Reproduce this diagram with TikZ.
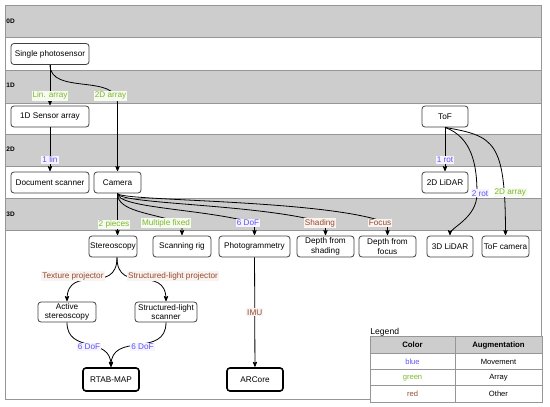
\documentclass[tikz,border=0pt]{standalone}
\usepackage{fontspec}
\setmainfont{Liberation Sans}
\usepackage{xcolor}
\usepackage{tikz}
\usetikzlibrary{positioning, arrows.meta, arrows}

\definecolor{bandgray}{RGB}{205,205,205}
\definecolor{linegray}{RGB}{150,150,150}
\definecolor{movecol}{RGB}{95,85,245}
\definecolor{arraycol}{RGB}{125,185,45}
\definecolor{othercol}{RGB}{150,75,45}

\newcommand{\figfont}{\fontsize{8.2pt}{9.4pt}\selectfont}

\begin{document}
\begin{tikzpicture}[x=1pt,y=1pt,->,>=stealth',shorten >=0.5pt,line width=0.8pt,font=\figfont,
    box/.style={draw=black!75,rounded corners=3pt,fill=white,minimum height=21pt,inner sep=1pt,align=center},
    final/.style={box,draw=black,line width=1.6pt,minimum height=23pt},
    lbl/.style={fill=#1!7,text=#1,inner sep=1pt},
    band/.style={-,fill=bandgray,draw=linegray,line width=0.6pt},
    dim/.style={font=\fontsize{6.5pt}{7pt}\selectfont\bfseries,anchor=west,inner sep=0pt},
    cell/.style={draw=linegray,fill=white,line width=0.6pt,minimum height=16.5pt,inner sep=0pt,font=\fontsize{7.6pt}{8pt}\selectfont}]
    \useasboundingbox (0,0) rectangle (550,-407);

    % bands
    \draw[-,draw=linegray,fill=white,line width=0.6pt] (5,-5) rectangle (541,-399);
    \foreach \ya/\yb in {5/37,70/103,134/166,198/230}
        \draw[band] (5,-\ya) rectangle (541,-\yb);
    \foreach \lab/\yy in {0/21,1/85,2/149,3/214}
        \node[dim] (d\lab) at (6,-\yy) {\lab D};

    % sensors
    \node[box,minimum width=78pt] (sp) at (50,-54) {Single photosensor};
    \node[box,minimum width=78pt] (sa) at (50,-116.5) {1D Sensor array};
    \node[box,minimum width=46pt] (tof) at (445,-116.5) {ToF};
    \node[box,minimum width=78pt] (ds) at (50,-182.5) {Document scanner};
    \node[box,minimum width=47pt] (cam) at (117.5,-182.5) {Camera};
    \node[box,minimum width=46pt] (lidar2) at (445,-182.5) {2D LiDAR};

    \node[box,minimum width=48pt] (stereo) at (113,-246.5) {Stereoscopy};
    \node[box,minimum width=58pt] (rig) at (182,-246.5) {Scanning rig};
    \node[box,minimum width=71pt] (photo) at (254.5,-246.5) {Photogrammetry};
    \node[box,minimum width=57pt] (dfs) at (325.5,-246.5) {Depth from\\shading};
    \node[box,minimum width=57pt] (dff) at (387.5,-246.5) {Depth from\\focus};
    \node[box,minimum width=46pt] (lidar3) at (450,-246.5) {3D LiDAR};
    \node[box,minimum width=47pt] (tofcam) at (505.5,-246.5) {ToF camera};

    \node[box,minimum width=58pt,minimum height=20pt] (actst) at (67,-312) {Active\\stereoscopy};
    \node[box,minimum width=62pt,minimum height=20pt] (sls) at (166,-312) {Structured-light\\scanner};
    \node[final,minimum width=56pt] (rtab) at (111,-379.5) {RTAB-MAP};
    \node[final,minimum width=56pt] (arcore) at (255,-379.5) {ARCore};

    % straight augmentations
    \path (sp) edge node[lbl=arraycol,pos=.76] {Lin. array} (sa)
          (sa) edge node[lbl=movecol,pos=.73] {1 lin} (ds)
          (tof) edge node[lbl=movecol,pos=.73] {1 rot} (lidar2)
          (photo) edge node[lbl=othercol] {IMU} (arcore)
          (actst) edge[out=-90,in=90,looseness=1.3] node[lbl=movecol,yshift=-2pt] {6 DoF} (rtab)
          (sls) edge[out=-90,in=90,looseness=1.3] node[lbl=movecol,xshift=4pt,yshift=-2pt] {6 DoF} (rtab);

    \draw (sp.south) to[out=-90,in=90] node[lbl=arraycol,pos=.9,xshift=-5pt] {2D array} ([yshift=68pt]cam.north) -- (cam.north);

    \draw (tof.south) to[out=-20,in=90] node[lbl=movecol,pos=1,xshift=3pt] {2 rot} ([xshift=32pt,yshift=-66pt]tof.south)
        to[out=-90,in=90,out distance=25pt,in distance=8pt] (lidar3.north);
    \draw (tof.south) to[out=-10,in=90,out distance=50pt,in distance=95pt] node[lbl=arraycol,pos=.82,xshift=6pt] {2D array} (tofcam.north);

    % from the camera
    \draw (cam.south) -- node[lbl=arraycol,pos=.74,xshift=-3.5pt] {2 pieces} (cam.south |- stereo.north);
    \draw (cam.south) to[out=-90,in=162,out distance=18pt,in distance=34pt] ([yshift=12.5pt]rig.north)
        -- node[lbl=arraycol,pos=0,xshift=-16pt] {Multiple fixed} (rig.north);
    \draw (cam.south) to[out=-90,in=164,out distance=15pt,in distance=52pt] ([yshift=12.5pt]photo.north)
        -- node[lbl=movecol,pos=0,xshift=-6.5pt] {6 DoF} (photo.north);
    \draw (cam.south) to[out=-90,in=163,out distance=11pt,in distance=66pt] ([yshift=12.5pt]dfs.north)
        -- node[lbl=othercol,pos=0,xshift=-5.5pt] {Shading} (dfs.north);
    \draw (cam.south) to[out=-90,in=158,out distance=8pt,in distance=64pt] ([yshift=12.5pt]dff.north)
        -- node[lbl=othercol,pos=0,xshift=-7.5pt] {Focus} (dff.north);

    % active variants
    \draw ([xshift=4pt]stereo.south) to[out=-90,in=90,looseness=1.5] node[lbl=othercol,xshift=-19pt,yshift=3.5pt] {Texture projector} (actst.north);
    \draw ([xshift=4pt]stereo.south) to[out=-90,in=90,looseness=1.5] node[lbl=othercol,xshift=31.5pt,yshift=3.5pt] {Structured-light projector} (sls.north);

    % legend
    \node[anchor=west,inner sep=0pt,font=\fontsize{8.6pt}{9pt}\selectfont] (legend) at (370,-332) {Legend};
    \node[cell,fill=bandgray,minimum width=85pt,font=\fontsize{7.8pt}{8pt}\selectfont\bfseries] (hcol) at (412.5,-345) {Color};
    \node[cell,fill=bandgray,minimum width=87pt,font=\fontsize{7.8pt}{8pt}\selectfont\bfseries] (haug) at (498.5,-345) {Augmentation};
    \foreach \nm/\col/\aug/\yy in {blue/movecol/Movement/361.5,green/arraycol/Array/378,red/othercol/Other/394}{
        \node[cell,minimum width=85pt,text=\col] (c\nm) at (412.5,-\yy) {\nm};
        \node[cell,minimum width=87pt] (a\nm) at (498.5,-\yy) {\aug};
    }
\end{tikzpicture}
\end{document}
